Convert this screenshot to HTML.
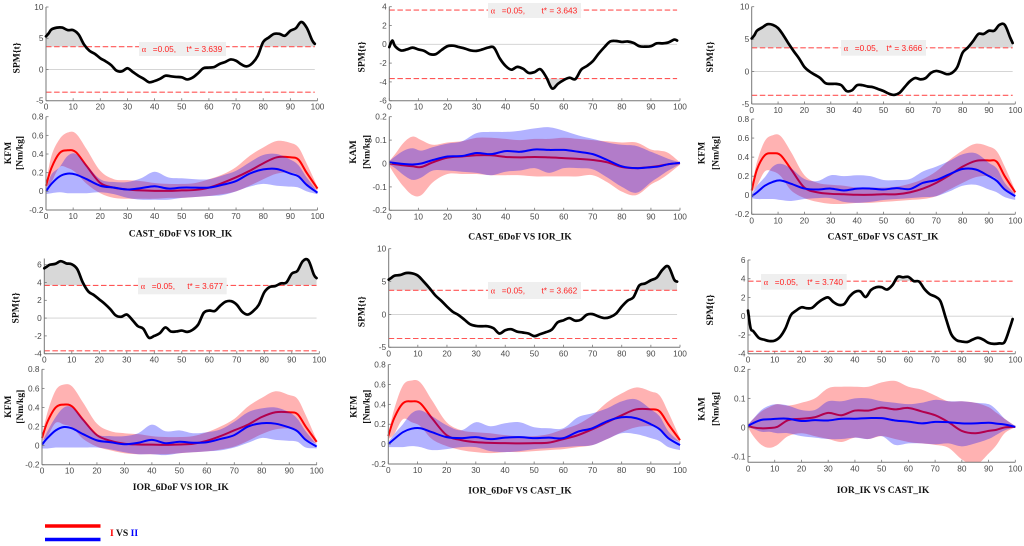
<!DOCTYPE html>
<html lang="en">
<head>
<meta charset="utf-8">
<title>SPM comparison charts</title>
<style>
html,body{margin:0;padding:0;background:#fff;width:1024px;height:546px;overflow:hidden}
svg{display:block;filter:blur(.35px)}
.tick{font-family:"Liberation Sans",sans-serif;font-size:8.3px;fill:#4a4a4a}
.title{font-family:"Liberation Serif",serif;font-weight:bold;font-size:9.6px;fill:#111}
.note{font-family:"Liberation Sans",sans-serif;font-size:8.3px;fill:#f22}
.alpha{font-family:"Liberation Serif","DejaVu Serif",serif;font-size:8.3px;fill:#f22}
</style>
</head>
<body>
<svg id="chart" xmlns="http://www.w3.org/2000/svg" width="1024" height="546" viewBox="0 0 1024 546">
  <rect x="0" y="0" width="1024" height="546" fill="#fff"/>
  <g id="plots"></g>
  <line x1="45" y1="526" x2="100.5" y2="526" stroke="#f00" stroke-width="3.4"/>
  <line x1="45" y1="539.5" x2="100.5" y2="539.5" stroke="#00f" stroke-width="3.4"/>
  <text x="110" y="536" class="title"><tspan fill="#f00">I</tspan> VS <tspan fill="#00f">II</tspan></text>
</svg>
<script>
// Shared domain values
const spmTime = [0,1,2,4,6,8,10,12,14,16,18,20,22,24,26,28,30,32,34,36,38,40,42,44,46,48,50,52,54,56,58,60,62,64,66,68,70,72,74,76,78,80,82,84,86,88,90,92,94,96,98,99];
const gaitTime = [0,2,5,8,11,15,20,25,30,35,40,45,50,55,60,65,70,75,80,85,90,93,96,100];
const xTickLabels = [0,10,20,30,40,50,60,70,80,90,100];

// SPM{t} curves
const spm1 = [5.3,5.8,6.4,6.7,6.7,6.3,6.3,5.6,4.0,3.0,2.5,1.8,1.3,0.7,-0.2,-0.3,0.2,-0.4,-1,-1.5,-2.05,-1.85,-1.5,-1,-1.1,-1.2,-1.25,-1.6,-1.3,-0.6,0.2,0.3,0.4,0.9,1.2,1.6,1.4,0.8,0.5,1,2.2,4.4,5.1,5.7,5.7,5.4,6.2,6.6,7.6,6.7,4.7,4.1];
const spm2 = [-0.3,0.4,-0.2,-0.65,-0.55,-0.35,-0.55,-0.7,-1.05,-1.05,-0.6,-0.2,-0.15,-0.3,-0.45,-0.65,-0.7,-0.55,-0.35,-0.35,-1.5,-2.3,-2.7,-2.4,-2.6,-3.05,-2.95,-2.65,-3.5,-4.7,-4.2,-3.8,-3.55,-3.7,-2.7,-2.3,-1.8,-1,-0.3,0.3,0.35,0.25,0.3,0.15,-0.2,-0.25,-0.2,0.1,0.1,0.2,0.5,0.4];
const spm3 = [5.1,5.6,6.3,6.8,7.3,7.2,6.7,5.6,4.3,3.1,2,0.7,0,-0.5,-1,-1.8,-1.9,-1.9,-2.1,-3,-2.9,-2.1,-2.1,-2.3,-2.4,-2.7,-3,-3.4,-3.6,-3.3,-2.4,-1.5,-1,-1.2,-1,-0.2,0.1,-0.1,-0.4,-0.2,0.7,2.9,3.7,4.7,5.8,5.8,6.3,6.3,7.2,7.2,5.3,4.4];
const spm4 = [5.6,5.8,6.0,6.1,6.4,6.15,6.05,5.5,4.0,3,2.6,2.1,1.6,1,0.3,0.15,0.4,-0.2,-0.9,-1.2,-2.2,-2,-1.7,-1.05,-1.5,-1.5,-1.4,-1.55,-1.3,-0.7,0.6,0.85,0.8,1.4,1.85,1.9,1.5,0.7,0.4,0.8,1.5,2.9,3.5,3.6,3.9,4.0,5,5.3,6.4,6.5,4.9,4.5];
const spm5 = [5.3,5.6,5.9,6,6.3,6.25,5.9,5,4,2.9,2.1,1.2,0.4,-0.1,-0.8,-1.5,-1.75,-1.8,-1.8,-2.1,-2.9,-2.4,-2.25,-2.6,-2.75,-2.9,-3.3,-3,-2.7,-2.3,-1.2,-0.9,-0.55,-0.95,-0.8,-0.05,0.05,-0.3,-0.55,-0.4,0.1,1.2,2.1,2.6,4.4,4.7,5.2,5.6,6.8,7.3,5.3,5];
const spm6 = [0.6,-1.3,-1.6,-2.3,-2.5,-2.65,-2.6,-2.2,-1.3,0.1,0.6,0.95,0.85,0.9,1.4,1.8,2,1.5,1.2,1.3,2.1,2.6,2.65,2.05,2.8,3.1,3.1,2.85,3.3,4.2,4.15,4.2,3.75,3.7,2.9,2.35,2.1,1.6,-0.2,-1.9,-2.55,-2.7,-2.75,-2.5,-2.3,-2.5,-2.85,-2.95,-2.9,-2.75,-1.2,-0.3];

// Critical thresholds
const thresholds = [3.639,3.643,3.666,3.677,3.662,3.740];

// Panel 1 moments
const redMean1 = [.06,.25,.41,.44,.42,.27,.09,.04,.02,.01,.005,.005,.01,.015,.04,.09,.15,.22,.30,.365,.365,.34,.2,.03];
const redUpper1 = [.08,.38,.56,.63,.62,.45,.22,.13,.12,.11,.09,.08,.08,.09,.13,.18,.26,.38,.47,.54,.52,.47,.3,.05];
const redLower1 = [.04,.1,.26,.25,.2,.08,-.02,-.07,-.08,-.08,-.08,-.07,-.07,-.06,-.05,-.03,0,.06,.13,.19,.2,.17,.08,.01];
const blueMean1 = [0,.08,.16,.19,.18,.13,.06,.04,.02,.035,.055,.03,.04,.04,.04,.07,.11,.19,.235,.24,.19,.16,.07,-.015];
const blueUpper1 = [.02,.18,.26,.38,.40,.28,.13,.1,.1,.14,.21,.15,.14,.13,.13,.17,.22,.31,.39,.40,.34,.28,.15,0];
const blueLower1 = [-.03,-.02,-.01,-.02,-.02,-.02,-.01,-.03,-.07,-.09,-.09,-.09,-.07,-.06,-.05,-.04,0,.05,.08,.06,.05,.04,0,-.03];

// Panel 2 moments
const redMean2 = [0,-.003,-.008,-.012,-.015,.005,.025,.03,.035,.035,.028,.026,.028,.026,.023,.02,.015,.005,-.015,-.02,-.015,-.01,-.003,.002];
const redUpper2 = [.01,.04,.09,.115,.10,.08,.09,.095,.11,.11,.105,.10,.105,.105,.11,.105,.10,.095,.09,.09,.06,.055,.045,.005];
const redLower2 = [-.01,-.05,-.1,-.135,-.135,-.08,-.045,-.045,-.045,-.05,-.05,-.05,-.055,-.055,-.055,-.055,-.05,-.08,-.12,-.135,-.09,-.07,-.045,-.005];
const blueMean2 = [.005,.002,-.002,-.004,0,.015,.03,.032,.045,.04,.053,.05,.06,.058,.058,.05,.04,.015,-.012,-.02,-.016,-.012,-.003,.003];
const blueUpper2 = [.01,.03,.055,.065,.055,.07,.085,.095,.13,.135,.135,.14,.15,.155,.14,.12,.105,.09,.08,.075,.05,.035,.02,.005];
const blueLower2 = [-.005,-.02,-.05,-.07,-.06,-.03,-.03,-.035,-.04,-.05,-.035,-.03,-.02,-.04,-.02,-.02,-.025,-.06,-.10,-.125,-.08,-.055,-.03,-.003];

// Panel 3 moments
const redMean3 = [.05,.27,.42,.44,.42,.27,.08,.03,.015,.01,.005,.005,.01,.01,.03,.07,.13,.21,.30,.36,.365,.35,.2,.03];
const redUpper3 = [.08,.35,.57,.63,.62,.45,.21,.13,.11,.1,.08,.08,.08,.09,.12,.17,.25,.37,.47,.54,.51,.46,.3,.05];
const redLower3 = [.03,.1,.25,.25,.2,.05,-.03,-.07,-.09,-.09,-.08,-.08,-.07,-.06,-.05,-.04,-.01,.06,.13,.19,.2,.17,.06,.01];
const blueMean3 = [-.01,.03,.1,.14,.155,.12,.07,.06,.07,.05,.07,.07,.06,.075,.065,.13,.16,.22,.275,.27,.2,.15,.06,-.01];
const blueUpper3 = [.01,.1,.19,.3,.33,.28,.17,.15,.21,.2,.21,.2,.16,.16,.17,.25,.3,.36,.43,.44,.34,.28,.13,.01];
const blueLower3 = [-.03,-.04,-.04,-.04,-.05,-.06,-.04,-.03,-.03,-.07,-.08,-.07,-.05,-.04,-.03,-.02,-.01,.04,.1,.11,.06,.03,-.02,-.05];

// Panel 4 moments
const redMean4 = [.08,.25,.40,.43,.41,.27,.11,.05,.02,.012,.01,.008,.012,.02,.05,.10,.16,.22,.30,.35,.35,.33,.2,.04];
const redUpper4 = [.1,.35,.58,.64,.62,.45,.23,.15,.13,.12,.1,.09,.09,.1,.14,.2,.28,.41,.5,.57,.53,.49,.32,.06];
const redLower4 = [.05,.1,.24,.22,.19,.07,-.01,-.05,-.08,-.09,-.09,-.09,-.08,-.07,-.06,-.04,-.01,.05,.12,.17,.18,.16,.07,.02];
const blueMean4 = [.01,.08,.16,.195,.18,.12,.055,.035,.015,.03,.06,.025,.04,.03,.035,.07,.11,.2,.235,.23,.19,.15,.06,-.01];
const blueUpper4 = [.03,.15,.3,.4,.4,.28,.12,.1,.1,.13,.22,.15,.16,.13,.14,.17,.25,.35,.39,.40,.35,.28,.15,.01];
const blueLower4 = [-.03,-.03,-.02,-.02,-.02,-.02,-.02,-.04,-.07,-.09,-.09,-.1,-.08,-.07,-.06,-.05,-.02,.03,.08,.06,.05,.04,-.02,-.03];

// Panel 5 moments
const redMean5 = [.08,.26,.41,.43,.41,.26,.09,.04,.02,.012,.01,.008,.01,.015,.05,.09,.15,.22,.29,.35,.35,.33,.2,.04];
const redUpper5 = [.1,.35,.59,.64,.62,.44,.22,.14,.12,.11,.09,.08,.08,.1,.15,.2,.29,.42,.51,.57,.53,.49,.32,.06];
const redLower5 = [.05,.1,.25,.22,.18,.05,-.02,-.06,-.08,-.09,-.08,-.08,-.07,-.06,-.05,-.03,-.01,.05,.12,.17,.18,.16,.07,.02];
const blueMean5 = [0,.05,.12,.155,.16,.12,.07,.06,.07,.05,.065,.07,.06,.065,.06,.125,.16,.23,.27,.26,.2,.15,.06,-.01];
const blueUpper5 = [.02,.1,.2,.31,.34,.28,.19,.14,.22,.18,.21,.22,.17,.16,.16,.27,.31,.36,.43,.45,.35,.28,.13,.02];
const blueLower5 = [-.03,-.03,-.03,-.02,-.03,-.06,-.05,-.03,-.03,-.07,-.08,-.07,-.05,-.04,-.03,-.02,-.01,.05,.11,.1,.06,.03,-.03,-.06];

// Panel 6 moments
const redMean6 = [.005,0,-.003,-.002,.002,.025,.03,.035,.05,.042,.058,.058,.068,.062,.067,.055,.042,.018,-.012,-.02,-.012,-.008,0,.002];
const redUpper6 = [.01,.03,.055,.07,.08,.075,.085,.10,.135,.14,.14,.14,.155,.16,.14,.13,.11,.09,.09,.085,.07,.05,.03,.005];
const redLower6 = [0,-.03,-.06,-.07,-.06,-.03,-.02,-.03,-.04,-.05,-.035,-.04,-.03,-.04,-.05,-.055,-.06,-.07,-.11,-.13,-.09,-.06,-.02,0];
const blueMean6 = [.005,.015,.026,.028,.03,.03,.022,.025,.024,.03,.03,.032,.032,.024,.02,.014,.019,.018,.014,.014,.016,.013,.01,.002];
const blueUpper6 = [.01,.03,.06,.075,.08,.075,.06,.06,.09,.09,.1,.1,.09,.085,.08,.085,.095,.09,.09,.085,.08,.06,.03,.005];
const blueLower6 = [0,-.005,-.015,-.015,-.02,-.02,-.03,-.035,-.04,-.04,-.035,-.04,-.03,-.06,-.055,-.055,-.058,-.055,-.065,-.055,-.04,-.025,-.01,0];

// Tick labels
const spmTicksA = [-5,0,5,10];
const spmTicksB = [-6,-4,-2,0,2,4];
const spmTicksC = [-4,-2,0,2,4,6];
const kfmTicks = [-0.2,0,0.2,0.4,0.6,0.8];
const kamTicksA = [-0.2,-0.1,0,0.1,0.2];
const kamTicksB = [-0.1,0,0.1,0.2];

// Layout of each column and row (separate from the values above)
const layout = [
 {spm:{l:46,r:317.5,t:7,b:100.7,min:-5,max:10,ticks:spmTicksA},mom:{l:46,r:317.5,t:116.7,b:210,min:-.2,max:.8,ticks:kfmTicks},values:spm1,thr:thresholds[0],box:[139,42,87,14],spmLab:[16.7,58],momLab:[8,19.5,153],momName:'KFM',title:'CAST_6DoF VS IOR_IK',titlePos:[180.5,236.5],
  red:[redMean1,redUpper1,redLower1],blue:[blueMean1,blueUpper1,blueLower1]},
 {spm:{l:389.3,r:680,t:6.7,b:100.7,min:-6,max:4,ticks:spmTicksB},mom:{l:389.3,r:680,t:116.7,b:210.3,min:-.2,max:.2,ticks:kamTicksA},values:spm2,thr:thresholds[1],box:[488,3,93,15],spmLab:[361.7,57],momLab:[353,366.7,152],momName:'KAM',title:'CAST_6DoF VS IOR_IK',titlePos:[520,239.5],
  red:[redMean2,redUpper2,redLower2],blue:[blueMean2,blueUpper2,blueLower2]},
 {spm:{l:751.7,r:1015.3,t:6.7,b:104,min:-5,max:10,ticks:spmTicksA},mom:{l:751.7,r:1015.3,t:119,b:214.3,min:-.2,max:.8,ticks:kfmTicks},values:spm3,thr:thresholds[2],box:[841,40,85,15.7],spmLab:[710,57],momLab:[701.7,715.7,153],momName:'KFM',title:'CAST_6DoF VS CAST_IK',titlePos:[883,239.5],
  red:[redMean3,redUpper3,redLower3],blue:[blueMean3,blueUpper3,blueLower3]},
 {spm:{l:44.3,r:319.3,t:258.5,b:353.7,min:-4,max:6.7,ticks:spmTicksC},mom:{l:42,r:316.7,t:369.3,b:464.7,min:-.2,max:.8,ticks:kfmTicks},values:spm4,thr:thresholds[3],box:[138,277.7,88.7,16.6],spmLab:[15.7,308],momLab:[8,20,406.7],momName:'KFM',title:'IOR_6DoF VS IOR_IK',titlePos:[180.7,490],
  red:[redMean4,redUpper4,redLower4],blue:[blueMean4,blueUpper4,blueLower4]},
 {spm:{l:388.7,r:680,t:248.7,b:347.3,min:-5,max:10,ticks:spmTicksA},mom:{l:388.3,r:680,t:364.6,b:464,min:-.2,max:.8,ticks:kfmTicks},values:spm5,thr:thresholds[4],box:[488,282,93,17],spmLab:[361.7,311.7],momLab:[353.7,366.7,406.7],momName:'KFM',title:'IOR_6DoF VS CAST_IK',titlePos:[520,493.5],
  red:[redMean5,redUpper5,redLower5],blue:[blueMean5,blueUpper5,blueLower5]},
 {spm:{l:748,r:1015.3,t:260,b:353.7,min:-4,max:6,ticks:spmTicksC},mom:{l:748,r:1015.3,t:369.3,b:462.3,min:-.12,max:.2,ticks:kamTicksB},values:spm6,thr:thresholds[5],box:[761,274,85.7,15.7],spmLab:[710,310],momLab:[701.7,715.7,409],momName:'KAM',title:'IOR_IK VS CAST_IK',titlePos:[883,493],
  red:[redMean6,redUpper6,redLower6],blue:[blueMean6,blueUpper6,blueLower6]}
];

const NS = 'http://www.w3.org/2000/svg';
const root = document.getElementById('plots');

function make(parent, tag, attrs, text){
  const el = document.createElementNS(NS, tag);
  for (const k in attrs) el.setAttribute(k, attrs[k]);
  if (text !== undefined) el.textContent = text;
  parent.appendChild(el);
  return el;
}
function xScale(a, xMax){ return v => a.l + (v / xMax) * (a.r - a.l); }
function yScale(a){ return v => a.b - (v - a.min) / (a.max - a.min) * (a.b - a.t); }
function curve(points, move){
  let d = (move ? 'M' : 'L') + points[0][0].toFixed(2) + ' ' + points[0][1].toFixed(2);
  for (let i = 0; i < points.length - 1; i++){
    const p0 = points[Math.max(i - 1, 0)], p1 = points[i], p2 = points[i + 1], p3 = points[Math.min(i + 2, points.length - 1)];
    const k = 0.17;
    d += ' C' + (p1[0] + (p2[0] - p0[0]) * k).toFixed(2) + ' ' + (p1[1] + (p2[1] - p0[1]) * k).toFixed(2) + ' ' +
      (p2[0] - (p3[0] - p1[0]) * k).toFixed(2) + ' ' + (p2[1] - (p3[1] - p1[1]) * k).toFixed(2) + ' ' +
      p2[0].toFixed(2) + ' ' + p2[1].toFixed(2);
  }
  return d;
}
function pts(xs, ys, sx, sy){ return xs.map((x, i) => [sx(x), sy(ys[i])]); }
function fmt(v){ return String(v); }

function drawAxes(g, a, sx, sy, prefix){
  const axisY = make(g, 'line', {x1:a.l, y1:a.t, x2:a.l, y2:a.b, stroke:'#777', 'stroke-width':1});
  
  
  const axisX = make(g, 'line', {x1:a.l, y1:a.b, x2:a.r, y2:a.b, stroke:'#777', 'stroke-width':1});
  
  
  a.ticks.forEach(v => {
    const y = sy(v);
    const tick = make(g, 'line', {x1:a.l, y1:y, x2:a.l + 2.5, y2:y, stroke:'#777', 'stroke-width':.8});
    
    
    const lab = make(g, 'text', {x:a.l - 2.5, y:y + 2.9, 'text-anchor':'end', class:'tick'}, fmt(v));
    
    
  });
  xTickLabels.forEach(v => {
    const x = sx(v);
    const tick = make(g, 'line', {x1:x, y1:a.b, x2:x, y2:a.b - 2.5, stroke:'#777', 'stroke-width':.8});
    
    
    const lab = make(g, 'text', {x:x, y:a.b + 9, 'text-anchor':'middle', class:'tick'}, String(v));
    
    
  });
}

function vertical(g, x, y, text, name){
  const t = make(g, 'text', {x:0, y:0, 'text-anchor':'middle', class:'title', transform:'translate(' + x + ' ' + y + ') rotate(-90)'}, text);
  
  
}

function drawSpm(g, p, idx){
  const a = p.spm, sx = xScale(a, 100), sy = yScale(a);
  const prefix = 'spm-' + (idx + 1);
  const line = pts(spmTime, p.values, sx, sy);
  const cid = 'clip-spm-' + idx;
  const defs = make(g, 'defs', {});
  const clipHi = make(defs, 'clipPath', {id:cid + '-hi'});
  make(clipHi, 'rect', {x:a.l, y:a.t - 5, width:a.r - a.l, height:sy(p.thr) - a.t + 5});
  const clipLo = make(defs, 'clipPath', {id:cid + '-lo'});
  make(clipLo, 'rect', {x:a.l, y:sy(-p.thr), width:a.r - a.l, height:a.b - sy(-p.thr)});
  const startX = sx(spmTime[0]), endX = sx(spmTime[spmTime.length - 1]);
  const hi = make(g, 'path', {d:curve(line, true) + ' L' + endX + ' ' + sy(p.thr) + ' L' + startX + ' ' + sy(p.thr) + ' Z', fill:'#d8d8d8', 'clip-path':'url(#' + cid + '-hi)'});
  
  
  const lo = make(g, 'path', {d:curve(line, true) + ' L' + endX + ' ' + sy(-p.thr) + ' L' + startX + ' ' + sy(-p.thr) + ' Z', fill:'#d8d8d8', 'clip-path':'url(#' + cid + '-lo)'});
  
  
  const zero = make(g, 'line', {x1:startX, y1:sy(0), x2:endX, y2:sy(0), stroke:'#cfcfcf', 'stroke-width':.9});
  
  
  [p.thr, -p.thr].forEach((t, i) => {
    const th = make(g, 'line', {x1:startX, y1:sy(t), x2:endX, y2:sy(t), stroke:'#f55', 'stroke-width':1.1, 'stroke-dasharray':'5.5 2.6'});
    
    
  });
  drawAxes(g, a, sx, sy, prefix);
  const path = make(g, 'path', {d:curve(line, true), fill:'none', stroke:'#000', 'stroke-width':2.7, 'stroke-linejoin':'round', 'stroke-linecap':'round'});
  
  
  const b = p.box;
  const box = make(g, 'rect', {x:b[0], y:b[1], width:b[2], height:b[3], fill:'#efefef'});
  
  
  const ty = b[1] + b[3] / 2 + 3;
  const al = make(g, 'text', {x:b[0] + 2.8, y:ty, class:'alpha'}, 'α');
  
  
  const a1 = make(g, 'text', {x:b[0] + 13.8, y:ty, class:'note'}, '=0.05,');
  
  
  const a2 = make(g, 'text', {x:b[0] + b[2] - 39.5, y:ty, class:'note'}, 't* = ' + p.thr.toFixed(3));
  
  
  vertical(g, p.spmLab[0] + 3, p.spmLab[1], 'SPM{t}', prefix + '-y-axis-title');
}

function drawMoment(g, p, idx){
  const a = p.mom, sx = xScale(a, 100), sy = yScale(a);
  const prefix = 'moment-' + (idx + 1);
  const cid = 'clip-mom-' + idx;
  const defs = make(g, 'defs', {});
  const clip = make(defs, 'clipPath', {id:cid});
  make(clip, 'rect', {x:a.l, y:a.t, width:a.r - a.l, height:a.b - a.t});
  const series = [['red', p.red, '#f00'], ['blue', p.blue, '#00f']];
  series.forEach(s => {
    const up = pts(gaitTime, s[1][1], sx, sy);
    const low = pts(gaitTime, s[1][2], sx, sy).reverse();
    const band = make(g, 'path', {d:curve(up, true) + ' ' + curve(low, false) + ' Z', fill:s[2], 'fill-opacity':.3, 'clip-path':'url(#' + cid + ')'});
    
    
    const mean = make(g, 'path', {d:curve(pts(gaitTime, s[1][0], sx, sy), true), fill:'none', stroke:s[2], 'stroke-width':2, 'stroke-linejoin':'round'});
    
    
  });
  drawAxes(g, a, sx, sy, prefix);
  vertical(g, p.momLab[0] + 3, p.momLab[2], p.momName, prefix + '-y-axis-title');
  vertical(g, p.momLab[1] + 3, p.momLab[2], '[Nm/kg]', prefix + '-y-axis-unit');
  const t = make(g, 'text', {x:p.titlePos[0], y:p.titlePos[1], 'text-anchor':'middle', class:'title'}, p.title);
  
  
}

layout.forEach((p, i) => {
  const g = make(root, 'g', {});
  
  
  drawSpm(g, p, i);
  drawMoment(g, p, i);
});
</script>
</body>
</html>
